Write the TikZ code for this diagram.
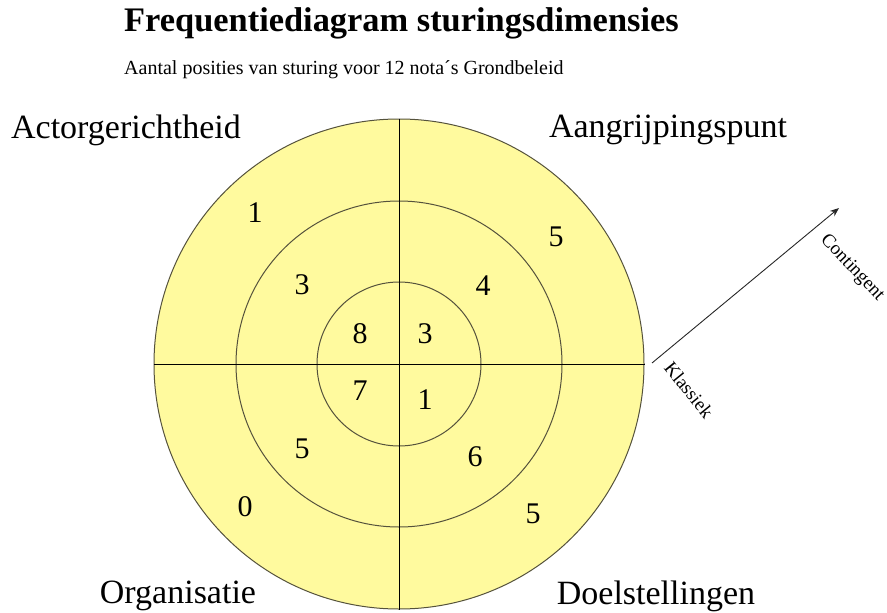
\documentclass[tikz,border=0pt]{standalone}
\usepackage{fontspec}
\setmainfont{Liberation Serif}
\usetikzlibrary{arrows.meta}
\definecolor{ringfill}{RGB}{255,250,158}
\definecolor{ringline}{RGB}{85,82,60}
\begin{document}
\begin{tikzpicture}[x=1pt,y=-1pt,
  ring/.style={circle,draw=ringline,line width=1pt,fill=ringfill,inner sep=0pt},
  num/.style={inner sep=0pt,font=\fontsize{30}{34}\selectfont},
  dim/.style={inner sep=0pt,font=\fontsize{34}{40}\selectfont},
  axis/.style={draw=black,line width=1pt},
  scalearrow/.style={draw=black!85,line width=0.9pt,-{Stealth[length=9pt,width=7pt]}},
  slab/.style={inner sep=0pt,font=\fontsize{19}{22}\selectfont}]
\useasboundingbox (0,0) rectangle (887,613);
\node[ring,minimum size=490pt] (outer) at (399,364) {};
\node[ring,minimum size=326pt] (middle) at (399,364) {};
\node[ring,minimum size=164pt] (inner) at (399,364) {};
\draw[axis] (outer.north) -- (outer.south);
\draw[axis] (outer.west) -- (outer.east);
% title
\node[inner sep=0pt,anchor=west,font=\fontsize{34.4}{40}\selectfont\bfseries] (title) at (124,23) {Frequentiediagram sturingsdimensies};
\node[inner sep=0pt,anchor=west,font=\fontsize{20}{24}\selectfont] (sub) at (124,70) {Aantal posities van sturing voor 12 nota´s Grondbeleid};
% dimension labels
\node[dim] (actor) at (126,130) {Actorgerichtheid};
\node[dim] (aangr) at (668,130) {Aangrijpingspunt};
\node[dim] (org) at (178,596) {Organisatie};
\node[dim] (doel) at (656,596) {Doelstellingen};
% numbers
\node[num] (n1) at (255,213) {1};
\node[num] (n2) at (556,237) {5};
\node[num] (n3) at (302,285) {3};
\node[num] (n4) at (483,286) {4};
\node[num] (n5) at (360,334) {8};
\node[num] (n6) at (425,334) {3};
\node[num] (n7) at (360,391) {7};
\node[num] (n8) at (425,400) {1};
\node[num] (n9) at (302,449) {5};
\node[num] (n10) at (475,457) {6};
\node[num] (n11) at (245,507) {0};
\node[num] (n12) at (533,514) {5};
% scale arrow
\coordinate (klas) at (652,363);
\coordinate (cont) at (839,208);
\draw[scalearrow] (klas) -- (cont);
\node[slab,rotate=-47] (tcont) at (852,268) {Contingent};
\node[slab,rotate=-51] (tklas) at (689,390) {Klassiek};
\end{tikzpicture}
\end{document}
